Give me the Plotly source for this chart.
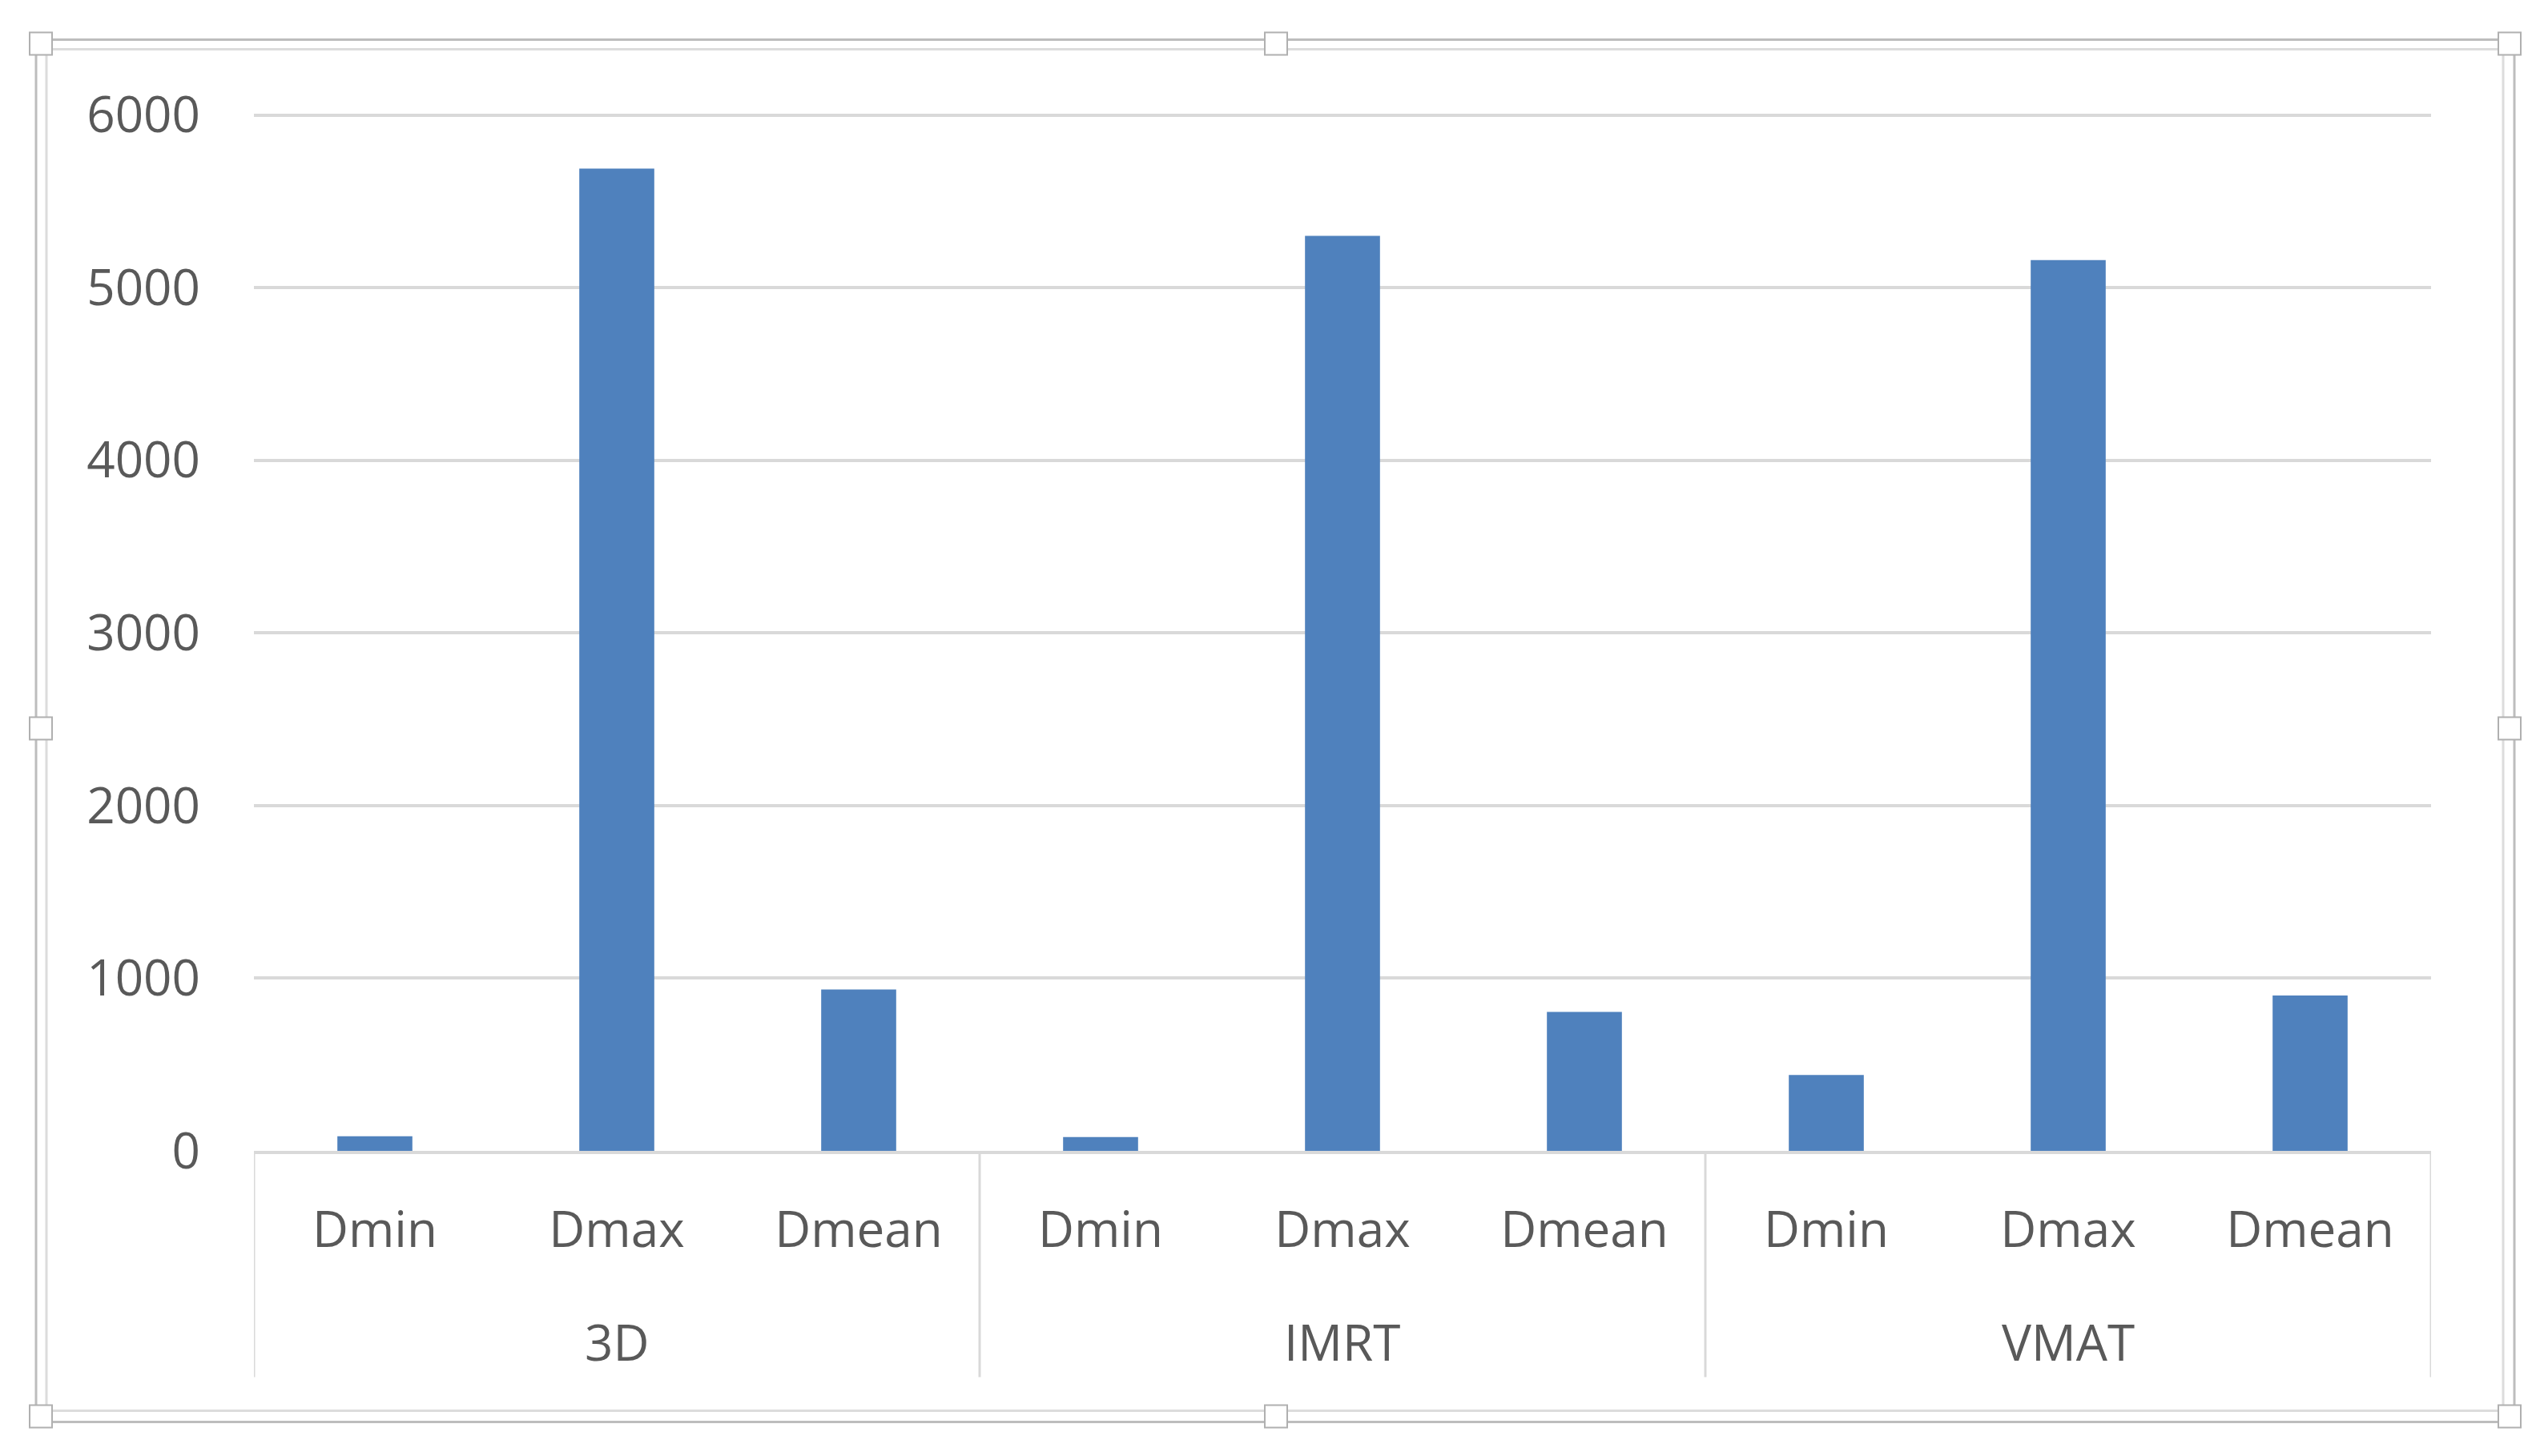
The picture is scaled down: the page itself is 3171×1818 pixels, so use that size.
import plotly.graph_objects as go

# data
groups = ["3D", "3D", "3D", "IMRT", "IMRT", "IMRT", "VMAT", "VMAT", "VMAT"]
doses = ["Dmin", "Dmax", "Dmean", "Dmin", "Dmax", "Dmean", "Dmin", "Dmax", "Dmean"]
values = [85, 5690, 935, 80, 5300, 805, 440, 5160, 900]
y_ticks = [0, 1000, 2000, 3000, 4000, 5000, 6000]
y_top = 6012  # a hair above 6000 so the top gridline is drawn

# page has an 8px body margin, so the figure is laid out 8px in
OFF = 8
W, H = 3171 - 2 * OFF, 1818 - 2 * OFF
plot_l, plot_r = 317 - OFF, 3035 - OFF
y0_px, y6000_px = 1437.5 - OFF, 144 - OFF
plot_t = y0_px - (y0_px - y6000_px) * y_top / 6000
L, R, T, B = plot_l, W - plot_r, plot_t, H - y0_px
pw, ph = W - L - R, H - T - B


def px(x):
    return (x - OFF - L) / pw


def py(y):
    return (H - B - (y - OFF)) / ph


keys = [g + " " + d for g, d in zip(groups, doses)]
grid = "#d9d9d9"

fig = go.Figure()
fig.add_trace(go.Bar(x=keys, y=values,
                     marker=dict(color="#4f81bd", line=dict(width=0))))

shapes = []
annotations = []
# group labels and dividers under the category labels
group_names = list(dict.fromkeys(groups))
bounds = [groups.index(g) for g in group_names] + [len(groups)]
for i, g in enumerate(group_names):
    members = [k for k, gg in zip(keys, groups) if gg == g]
    annotations.append(dict(x=members[len(members) // 2], xref="x", y=py(1676), yref="paper",
                            text=g, showarrow=False, yanchor="middle",
                            font=dict(size=62, color="#595959")))
for b in bounds:
    shapes.append(dict(type="line", xref="x", yref="paper", x0=b - 0.5, x1=b - 0.5,
                       y0=0, y1=py(1720), line=dict(color=grid, width=3)))

# chart-area selection frame (double line) with handles
shapes.append(dict(type="rect", xref="paper", yref="paper", x0=px(45), x1=px(3139), y0=py(1776), y1=py(50),
                   line=dict(color="#bdbdbd", width=3), layer="above"))
shapes.append(dict(type="rect", xref="paper", yref="paper", x0=px(58), x1=px(3125), y0=py(1762), y1=py(62),
                   line=dict(color="#dcdcdc", width=3), layer="above"))
for cx, cy in [(51, 55), (1593, 55), (3133, 55), (51, 910), (3133, 910), (51, 1769), (1593, 1769), (3133, 1769)]:
    shapes.append(dict(type="rect", xref="paper", yref="paper", x0=px(cx - 14), x1=px(cx + 14),
                       y0=py(cy + 14), y1=py(cy - 14), fillcolor="white",
                       line=dict(color="#b0b0b0", width=2), layer="above"))

fig.update_layout(
    width=W, height=H,
    margin=dict(l=L, r=R, t=T, b=B, pad=0),
    paper_bgcolor="white", plot_bgcolor="white",
    showlegend=False,
    bargap=0.69,
    font=dict(family="Open Sans", size=62, color="#595959"),
    shapes=shapes,
    annotations=annotations,
)
fig.update_yaxes(range=[0, y_top], tickvals=y_ticks, gridcolor=grid, gridwidth=4,
                 zeroline=False, showline=False, ticks="", ticklabelstandoff=66)
fig.update_xaxes(showline=True, linecolor=grid, linewidth=4, range=[-0.5, len(keys) - 0.5],
                 tickvals=keys, ticktext=doses, ticks="", ticklabelstandoff=42)

fig.write_html("out.html")
